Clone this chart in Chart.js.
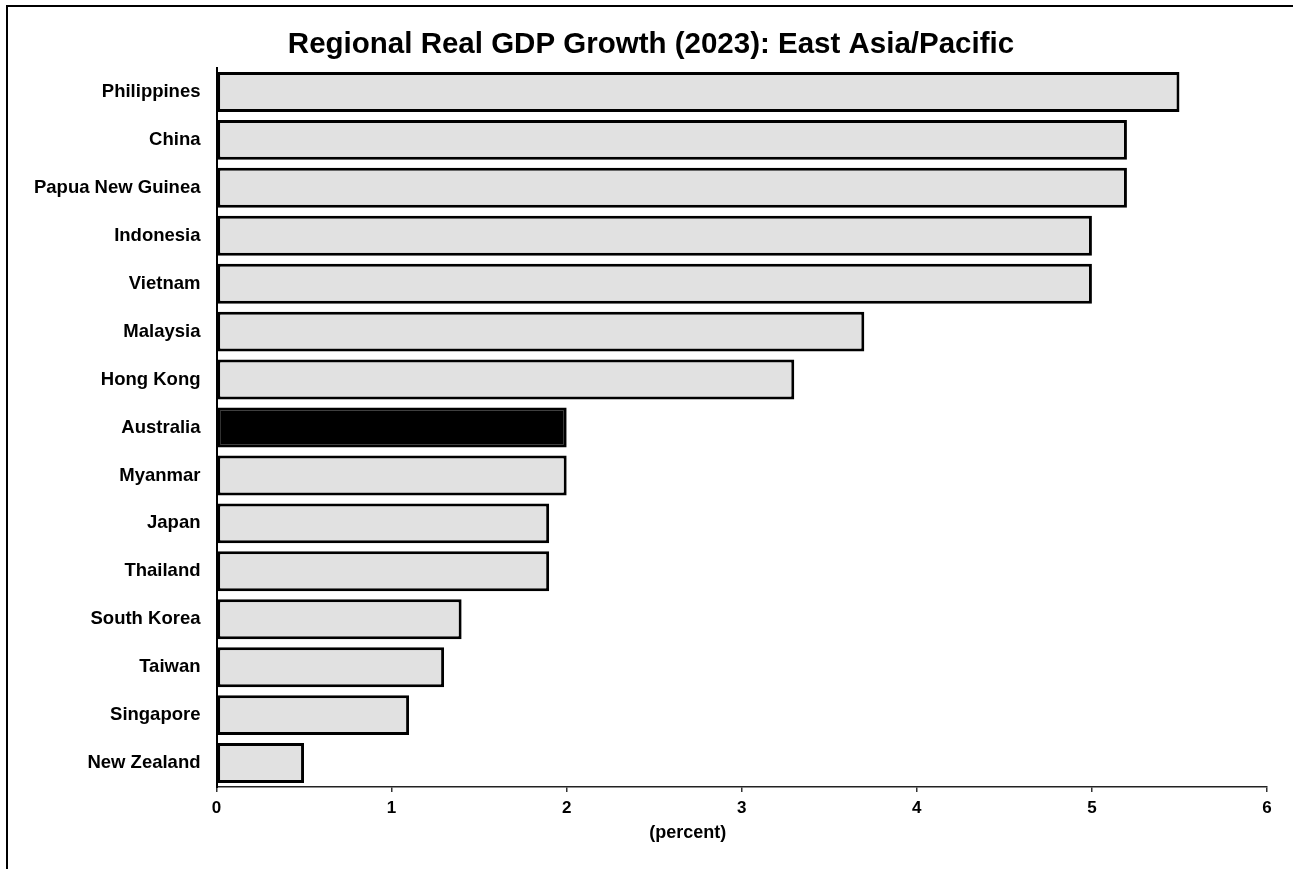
<!DOCTYPE html>
<html>
<head>
<meta charset="utf-8">
<script src="https://cdn.jsdelivr.net/npm/chart.js@4/dist/chart.umd.min.js"></script>
<style>
  html, body { margin: 0; padding: 0; background: #fff; overflow: hidden; }
  #wrap { position: relative; width: 1293px; height: 869px; }
  #frame {
    position: absolute; left: 6px; top: 5px; width: 2000px; height: 2000px;
    border-left: 2px solid #000; border-top: 2px solid #000; pointer-events: none;
  }
</style>
</head>
<body>
<div id="wrap">
  <canvas id="gdpChart" width="1293" height="869"></canvas>
  <div id="frame"></div>
</div>
<script>
// data
const countries = ['Philippines', 'China', 'Papua New Guinea', 'Indonesia', 'Vietnam', 'Malaysia', 'Hong Kong',
  'Australia', 'Myanmar', 'Japan', 'Thailand', 'South Korea', 'Taiwan', 'Singapore', 'New Zealand'];
const growth = [5.5, 5.2, 5.2, 5.0, 5.0, 3.7, 3.3, 2.0, 2.0, 1.9, 1.9, 1.4, 1.3, 1.1, 0.5];
const xTicks = [0, 1, 2, 3, 4, 5, 6];
const highlight = 'Australia';
const chartTitle = 'Regional Real GDP Growth (2023): East Asia/Pacific';
const xAxisTitle = '(percent)';

const FONT = '"Liberation Sans", Arial, sans-serif';

// titles are placed by hand: both sit off-centre in the original
const textPlugin = {
  id: 'titles',
  afterDraw(chart) {
    const { ctx, chartArea } = chart;
    ctx.save();
    ctx.fillStyle = '#000';
    ctx.textAlign = 'center';
    ctx.textBaseline = 'middle';
    ctx.font = 'bold 29.5px ' + FONT;
    ctx.fillText(chartTitle, 651, 45);
    ctx.font = 'bold 18px ' + FONT;
    ctx.fillText(xAxisTitle, (chartArea.left + chartArea.right) / 2 - 54, chartArea.bottom + 46);
    ctx.restore();
  }
};

const ctx = document.getElementById('gdpChart').getContext('2d');
new Chart(ctx, {
  type: 'bar',
  data: {
    labels: countries,
    datasets: [{
      data: growth,
      backgroundColor: c => countries[c.dataIndex] === highlight ? '#000000' : '#e1e1e1',
      borderColor: '#000000',
      borderWidth: 3,
      borderSkipped: false,
      barPercentage: 0.833,
      categoryPercentage: 1.0,
    }]
  },
  plugins: [textPlugin],
  options: {
    indexAxis: 'y',
    responsive: false,
    animation: false,
    layout: { padding: { left: 0, right: 26, top: 68, bottom: 0 } },
    plugins: {
      legend: { display: false },
      tooltip: { enabled: false },
      title: { display: false },
    },
    scales: {
      x: {
        type: 'linear',
        min: 0,
        max: 6,
        afterBuildTicks: scale => { scale.ticks = xTicks.map(v => ({ value: v })); },
        afterFit: scale => { scale.height = 82; },
        grid: { drawOnChartArea: false, drawTicks: true, tickLength: 5, color: '#333', lineWidth: 1.5 },
        border: { display: true, color: '#222', width: 1.5 },
        ticks: { color: '#000', padding: 6, font: { family: FONT, size: 17, weight: 'bold' } },
      },
      y: {
        afterFit: scale => { scale.width = 216.5; },
        grid: { display: false, drawTicks: false },
        border: { display: true, color: '#000', width: 2 },
        ticks: { color: '#000', padding: 16, font: { family: FONT, size: 18.5, weight: 'bold' } },
      },
    },
  },
});
</script>
</body>
</html>
